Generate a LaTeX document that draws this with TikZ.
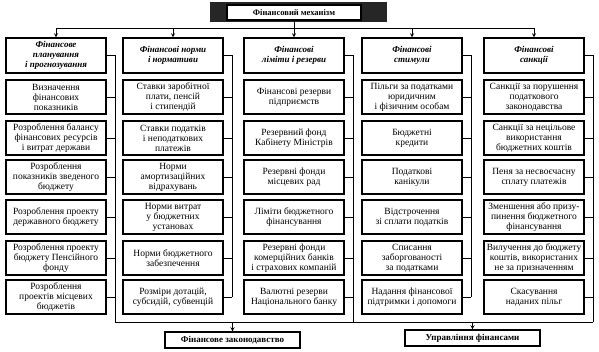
\documentclass[tikz,border=0pt]{standalone}
\usepackage{fontspec}
\setmainfont{Liberation Serif}
\begin{document}
\begin{tikzpicture}[x=1pt, y=-1pt,
        box/.style={draw, line width=1.1pt, fill=white, align=center, inner sep=1.5pt,
                    minimum width=100pt, minimum height=34pt,
                    font=\fontsize{9.5}{10}\selectfont},
        head/.style={box, minimum height=35pt,
                    font=\fontsize{9}{9.8}\selectfont\bfseries\itshape},
        endbox/.style={draw, line width=1.1pt, fill=white, minimum width=135pt,
                    minimum height=16pt, inner sep=1pt, font=\fontsize{9}{10}\selectfont\bfseries},
        line/.style={line width=0.9pt},
        arr/.style={->, >=stealth, line width=0.9pt},
    ]
        \useasboundingbox (0,0) rectangle (599,351);

        % Title
        \fill[black!85] (210,2) rectangle (387,22);
        \node[endbox, minimum width=134pt, minimum height=15pt,
              font=\fontsize{8.5}{9}\selectfont\bfseries] (mech) at (294,12.5) {Фінансовий механізм};

        \coordinate (top) at (0,28);
        \coordinate (bot) at (0,322);
        \coordinate (b1) at (115,0);
        \coordinate (b2) at (232,0);
        \coordinate (b3) at (353,0);
        \coordinate (b4) at (471,0);
        \coordinate (b5) at (593,0);

        % Planning
        \node[head] (pl-h) at (56, 55.5) {Фінансове\\планування\\і прогнозування};
        \node[box] (pl-1) at (56, 97) {Визначення\\фінансових\\показників};
        \node[box] (pl-2) at (56, 138) {Розроблення балансу\\фінансових ресурсів\\і витрат держави};
        \node[box] (pl-3) at (56, 177) {Розроблення\\показників зведеного\\бюджету};
        \node[box] (pl-4) at (56, 217) {Розроблення проекту\\державного бюджету};
        \node[box] (pl-5) at (56, 258) {Розроблення проекту\\бюджету Пенсійного\\фонду};
        \node[box] (pl-6) at (56, 297) {Розроблення\\проектів місцевих\\бюджетів};

        % Norms
        \node[head] (nm-h) at (173, 55.5) {Фінансові норми\\і нормативи};
        \node[box] (nm-1) at (173, 97) {Ставки заробітної\\плати, пенсій\\і стипендій};
        \node[box] (nm-2) at (173, 138) {Ставки податків\\і неподаткових\\платежів};
        \node[box] (nm-3) at (173, 177) {Норми\\амортизаційних\\відрахувань};
        \node[box] (nm-4) at (173, 217) {Норми витрат\\у бюджетних\\установах};
        \node[box] (nm-5) at (173, 258) {Норми бюджетного\\забезпечення};
        \node[box] (nm-6) at (173, 297) {Розміри дотацій,\\субсидій, субвенцій};

        % Limits and reserves
        \node[head] (lr-h) at (294, 55.5) {Фінансові\\ліміти і резерви};
        \node[box] (lr-1) at (294, 97) {Фінансові резерви\\підприємств};
        \node[box] (lr-2) at (294, 138) {Резервний фонд\\Кабінету Міністрів};
        \node[box] (lr-3) at (294, 177) {Резервні фонди\\місцевих рад};
        \node[box] (lr-4) at (294, 217) {Ліміти бюджетного\\фінансування};
        \node[box] (lr-5) at (294, 258) {Резервні фонди\\комерційних банків\\і страхових компаній};
        \node[box] (lr-6) at (294, 297) {Валютні резерви\\Національного банку};

        % Incentives
        \node[head] (st-h) at (412, 55.5) {Фінансові\\стимули};
        \node[box] (st-1) at (412, 97) {Пільги за податками\\юридичним\\і фізичним особам};
        \node[box] (st-2) at (412, 138) {Бюджетні\\кредити};
        \node[box] (st-3) at (412, 177) {Податкові\\канікули};
        \node[box] (st-4) at (412, 217) {Відстрочення\\зі сплати податків};
        \node[box] (st-5) at (412, 258) {Списання\\заборгованості\\за податками};
        \node[box] (st-6) at (412, 297) {Надання фінансової\\підтримки і допомоги};

        % Sanctions
        \node[head] (sn-h) at (534, 55.5) {Фінансові\\санкції};
        \node[box] (sn-1) at (534, 97) {Санкції за порушення\\податкового\\законодавства};
        \node[box] (sn-2) at (534, 138) {Санкції за нецільове\\використання\\бюджетних коштів};
        \node[box] (sn-3) at (534, 177) {Пеня за несвоєчасну\\сплату платежів};
        \node[box] (sn-4) at (534, 217) {Зменшення або призу-\\пинення бюджетного\\фінансування};
        \node[box] (sn-5) at (534, 258) {Вилучення до бюджету\\коштів, використаних\\не за призначенням};
        \node[box] (sn-6) at (534, 297) {Скасування\\наданих пільг};

        % Outputs
        \node[endbox] (law) at (232.5, 340) {Фінансове законодавство};
        \node[endbox] (mgmt) at (472.5, 338) {Управління фінансами};

        % Top distribution
        \draw[line] (pl-h.north |- top) -- (sn-h.north |- top);
        \draw[arr] (mech.south) -- (lr-h.north);
        \draw[arr] (pl-h.north |- top) -- (pl-h.north);
        \draw[arr] (nm-h.north |- top) -- (nm-h.north);
        \draw[arr] (st-h.north |- top) -- (st-h.north);
        \draw[arr] (sn-h.north |- top) -- (sn-h.north);

        % Column buses
        \draw[line] (pl-h.east) -| (b1 |- bot);
        \draw[line] (nm-h.east) -| (nm-6.east -| b2);
        \draw[line] (lr-h.east) -| (b3 |- bot);
        \draw[line] (st-h.east) -| (st-6.east -| b4);
        \draw[line] (sn-h.east) -| (b5 |- bot);
        \foreach \i in {1,...,6} {
            \draw[line] (pl-\i.east) -- (pl-\i.east -| b1);
            \draw[line] (nm-\i.east) -- (nm-\i.east -| b2);
            \draw[line] (lr-\i.east) -- (lr-\i.east -| b3);
            \draw[line] (st-\i.east) -- (st-\i.east -| b4);
            \draw[line] (sn-\i.east) -- (sn-\i.east -| b5);
        }

        % Bottom collection
        \draw[line] (b1 |- bot) -- (b5 |- bot);
        \draw[arr] (law.north |- bot) -- (law.north);
        \draw[arr] (mgmt.north |- bot) -- (mgmt.north);
    \end{tikzpicture}
\end{document}
